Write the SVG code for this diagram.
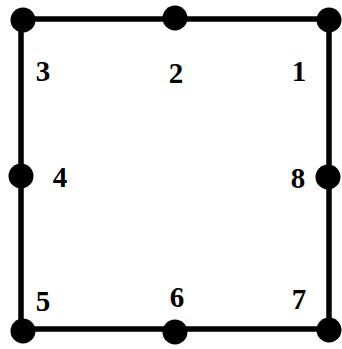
<svg xmlns="http://www.w3.org/2000/svg" width="342" height="349" viewBox="0 0 342 349">
<style>
.edge{stroke:#000;stroke-width:5.5;fill:none;stroke-linecap:round}
.dot{fill:#000}
.lbl{font-family:"Liberation Serif","Times New Roman",serif;font-weight:bold;font-size:29px;fill:#000;text-anchor:middle}
</style>
<rect width="342" height="349" fill="#fff"/>
<g id="connectors">
<path class="edge" d="M21,19 L329,19 L329,329 L21,329 Z"/>
</g>
<g id="n1"><circle class="dot" cx="329" cy="20" r="12.5"/><text class="lbl" x="299" y="81">1</text></g>
<g id="n2"><circle class="dot" cx="175" cy="18" r="12.5"/><text class="lbl" x="176" y="83">2</text></g>
<g id="n3"><circle class="dot" cx="23" cy="20" r="12.5"/><text class="lbl" x="43" y="81">3</text></g>
<g id="n4"><circle class="dot" cx="21" cy="176" r="12.5"/><text class="lbl" x="60" y="187">4</text></g>
<g id="n8"><circle class="dot" cx="328" cy="177" r="12.5"/><text class="lbl" x="298" y="188">8</text></g>
<g id="n5"><circle class="dot" cx="23" cy="331" r="12.5"/><text class="lbl" x="43" y="311">5</text></g>
<g id="n6"><circle class="dot" cx="175" cy="332" r="12.5"/><text class="lbl" x="177" y="307">6</text></g>
<g id="n7"><circle class="dot" cx="329" cy="330" r="12.5"/><text class="lbl" x="299" y="309">7</text></g>
</svg>
